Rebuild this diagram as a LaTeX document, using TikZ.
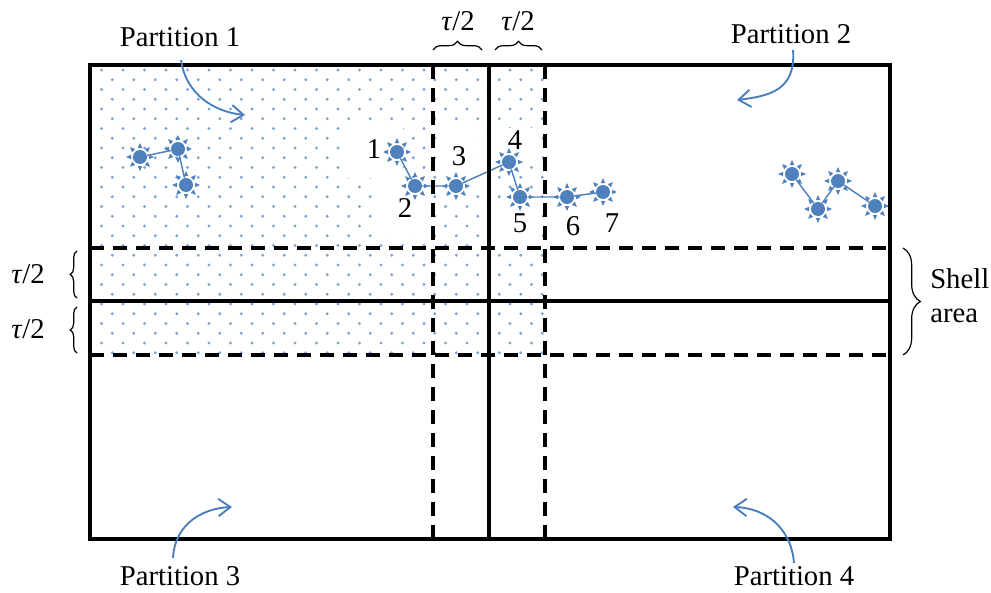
\documentclass[tikz,border=0pt]{standalone}
\usepackage{fontspec}
\setmainfont{Liberation Serif}
\usetikzlibrary{arrows.meta,decorations.pathreplacing}
\definecolor{ptblue}{HTML}{4F81BD}
\definecolor{arrblue}{HTML}{4A7EBB}
\definecolor{dotblue}{HTML}{7EA3D8}

\begin{document}
\begin{tikzpicture}[x=0.75pt,y=-0.75pt,
  lbl/.style={font=\fontsize{21.5}{25}\selectfont, inner sep=0pt, anchor=base},
  frame/.style={line width=3.5pt},
  cut/.style={line width=3.2pt, dash pattern=on 10.5pt off 6.75pt},
  pt/.style={circle, fill=ptblue, minimum size=10.5pt, inner sep=0pt},
  link/.style={ptblue, line width=1.1pt},
  callout/.style={arrblue, line width=1.4pt,
    -{Straight Barb[length=9pt,width=13pt,line width=1.4pt]}},
  bracefine/.style={line width=0.9pt, decorate},
  mask/.style={fill=white, draw=none}
]
\useasboundingbox (0,0) rectangle (991,592);

% dotted fill of partition 1 and its shell strips
\begin{scope}
  \clip (90,65) rectangle (545,355);
  \foreach \r in {0,...,30} {
    \pgfmathsetmacro\yy{70+9.75*\r}
    \pgfmathsetmacro\xo{mod(\r,2)==0 ? 80 : 90.75}
    \foreach \c in {0,...,22}
      \fill[dotblue] (\xo+21.5*\c,\yy) circle[radius=1.7];
  }
\end{scope}

% white backgrounds behind the point numbers
\fill[mask] (347,122) rectangle (403,178);
\fill[mask] (378,178) rectangle (432,237);
\fill[mask] (437,127) rectangle (479,188);
\fill[mask] (496,128) rectangle (542,162);
\fill[mask] (497,200) rectangle (542,246);

% data points
\node[pt] (a1) at (140,157) {};
\node[pt] (a2) at (178,149) {};
\node[pt] (a3) at (186,185) {};

\node[pt] (p1) at (397,152) {};
\node[pt] (p2) at (415,186) {};
\node[pt] (p3) at (456,186) {};
\node[pt] (p4) at (509,162) {};
\node[pt] (p5) at (520,197) {};
\node[pt] (p6) at (567,197) {};
\node[pt] (p7) at (603,192) {};

\node[pt] (b1) at (792,174) {};
\node[pt] (b2) at (818,209) {};
\node[pt] (b3) at (838,181) {};
\node[pt] (b4) at (875,206) {};

% sun rays around each point
\foreach \n in {a1,a2,a3,p1,p2,p3,p4,p5,p6,p7,b1,b2,b3,b4}
  \foreach \ang in {0,45,...,315}
    \fill[ptblue, shift={(\n.center)}, rotate=\ang]
      (9,-2.2) -- (14,0) -- (9,2.2) -- cycle;

% links between points
\draw[link] (a1) -- (a2) -- (a3);
\draw[link] (p1) -- (p2) -- (p3) -- (p4) -- (p5) -- (p6) -- (p7);
\draw[link] (b1) -- (b2) -- (b3) -- (b4);

% point numbers
\node[lbl] (n1) at (374,158) {1};
\node[lbl] (n2) at (405,217) {2};
\node[lbl] (n3) at (459,165) {3};
\node[lbl] (n4) at (515,149) {4};
\node[lbl] (n5) at (520,232) {5};
\node[lbl] (n6) at (573,235) {6};
\node[lbl] (n7) at (612,232) {7};

% shell boundaries
\draw[cut] (433,65) -- (433,539);
\draw[cut] (545,65) -- (545,539);
\draw[cut] (90,248) -- (890,248);
\draw[cut] (90,355) -- (890,355);

% partition borders
\draw[frame] (489,65) -- (489,539);
\draw[frame] (90,301) -- (890,301);
\draw[frame] (90,65) rectangle (890,539);

% shell widths
\draw[bracefine, decoration={brace,amplitude=6.5pt}] (433,50) -- (482,50);
\draw[bracefine, decoration={brace,amplitude=6.5pt}] (495,50) -- (542,50);
\node[lbl] (w1) at (458,31) {\textit{τ}/2};
\node[lbl] (w2) at (518,31) {\textit{τ}/2};

\draw[bracefine, decoration={brace,amplitude=5pt}] (77,298) -- (77,251);
\draw[bracefine, decoration={brace,amplitude=5pt}] (77,353) -- (77,307);
\node[lbl] (h1) at (28,283) {\textit{τ}/2};
\node[lbl] (h2) at (28,338) {\textit{τ}/2};

\draw[bracefine, decoration={brace,amplitude=13pt}] (903,248) -- (903,355);
\node[lbl, anchor=base west] (s1) at (930,288) {Shell};
\node[lbl, anchor=base west] (s2) at (930,322) {area};

% partition labels and callouts
\node[lbl] (l1) at (180,46) {Partition 1};
\node[lbl] (l2) at (791,44) {Partition 2};
\node[lbl] (l3) at (180,585) {Partition 3};
\node[lbl] (l4) at (794,585) {Partition 4};

\coordinate (c1s) at (181,60);  \coordinate (c1e) at (245,115);
\coordinate (c2s) at (793,50);  \coordinate (c2e) at (737,100);
\coordinate (c3s) at (173,558); \coordinate (c3e) at (232,507);
\coordinate (c4s) at (794,563); \coordinate (c4e) at (733,507);

\draw[callout] (c1s) .. controls (186,95) and (215,112) .. (c1e);
\draw[callout] (c2s) .. controls (796,90) and (770,96) .. (c2e);
\draw[callout] (c3s) .. controls (175,522) and (205,508) .. (c3e);
\draw[callout] (c4s) .. controls (791,527) and (765,508) .. (c4e);
\end{tikzpicture}
\end{document}
